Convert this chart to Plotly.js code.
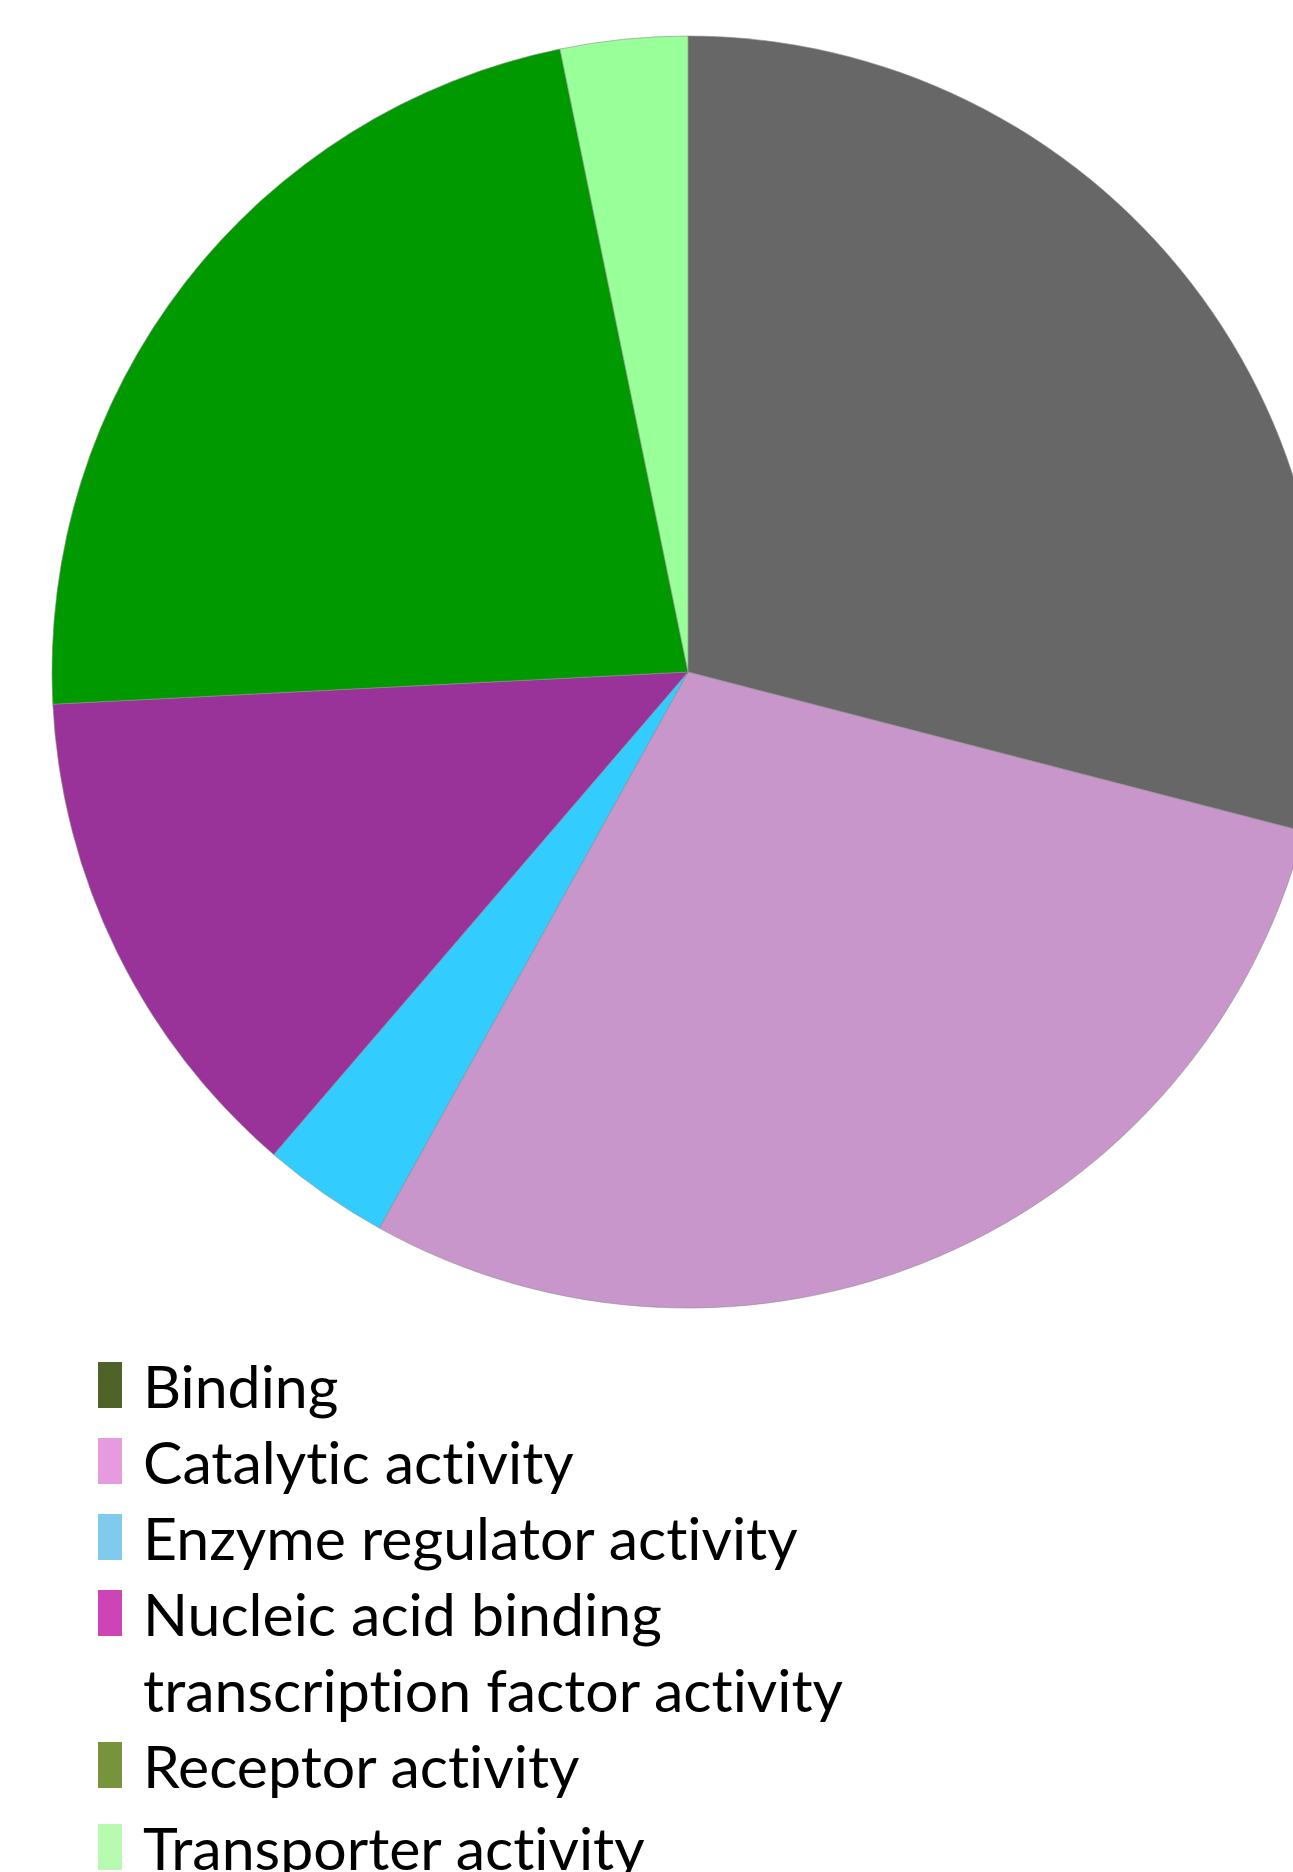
<!DOCTYPE html>
<html>
<head>
<meta charset="utf-8">
<script src="https://cdn.plot.ly/plotly-3.0.1.min.js"></script>
<style>
  html, body { margin: 0; padding: 0; overflow: hidden; background: #ffffff; }
  #chart { width: 1376px; height: 1872px; }
  text { font-variant-ligatures: none; font-feature-settings: "liga" 0; }
</style>
</head>
<body>
<div id="chart"></div>
<script>
// ---- data ----
const categories = [
  "Binding",
  "Catalytic activity",
  "Enzyme regulator activity",
  "Nucleic acid binding transcription factor activity",
  "Receptor activity",
  "Transporter activity"
];
const counts = [9, 9, 1, 4, 7, 1];
const sliceColors = ["#676767", "#c996cb", "#33ccff", "#993399", "#009900", "#99ff99"];
const legendLines = [
  ["Binding"],
  ["Catalytic activity"],
  ["Enzyme regulator activity"],
  ["Nucleic acid binding", "transcription factor activity"],
  ["Receptor activity"],
  ["Transporter activity"]
];
const legendColors = ["#4f6228", "#e69ae0", "#80cbed", "#cc44b6", "#77933c", "#b8fbb0"];

// ---- layout constants (pixels) ----
const W = 1376, H = 1872;
const pieTop = 36, pieBottom = 1308;
const legSqX0 = 98, legSqX1 = 122, legSqH = 46;
const legTextX = 141;
const legStartY = 1385, legStep = 76, legLastExtra = 6;

const px = x => x / W;
const py = y => 1 - y / H;

const shapes = [];
const annotations = [];
let row = 0;
legendLines.forEach((lines, i) => {
  const extra = (i === legendLines.length - 1 ? legLastExtra : 0);
  const cy = legStartY + row * legStep + extra;
  shapes.push({
    type: "rect", xref: "paper", yref: "paper",
    x0: px(legSqX0), x1: px(legSqX1),
    y0: py(cy + legSqH / 2), y1: py(cy - legSqH / 2),
    fillcolor: legendColors[i], line: { width: 0 }
  });
  lines.forEach((t) => {
    const ly = legStartY + row * legStep + extra;
    annotations.push({
      xref: "paper", yref: "paper", x: px(legTextX), y: py(ly),
      xanchor: "left", yanchor: "middle", showarrow: false,
      text: t, font: { family: "Lato, 'Open Sans', sans-serif", size: 59, color: "#000000" }
    });
    row++;
  });
});

const trace = {
  type: "pie",
  labels: categories,
  values: counts,
  sort: false,
  direction: "clockwise",
  rotation: 0,
  textinfo: "none",
  hoverinfo: "label+value+percent",
  marker: { colors: sliceColors, line: { color: "rgba(140,140,140,0.6)", width: 1 } },
  domain: { x: [0, 1], y: [py(pieBottom), py(pieTop)] },
  showlegend: false
};

const layout = {
  width: W, height: H,
  margin: { l: 0, r: 0, t: 0, b: 0 },
  paper_bgcolor: "#ffffff",
  showlegend: false,
  shapes: shapes,
  annotations: annotations
};

Plotly.newPlot("chart", [trace], layout, { displayModeBar: false });
</script>
</body>
</html>
